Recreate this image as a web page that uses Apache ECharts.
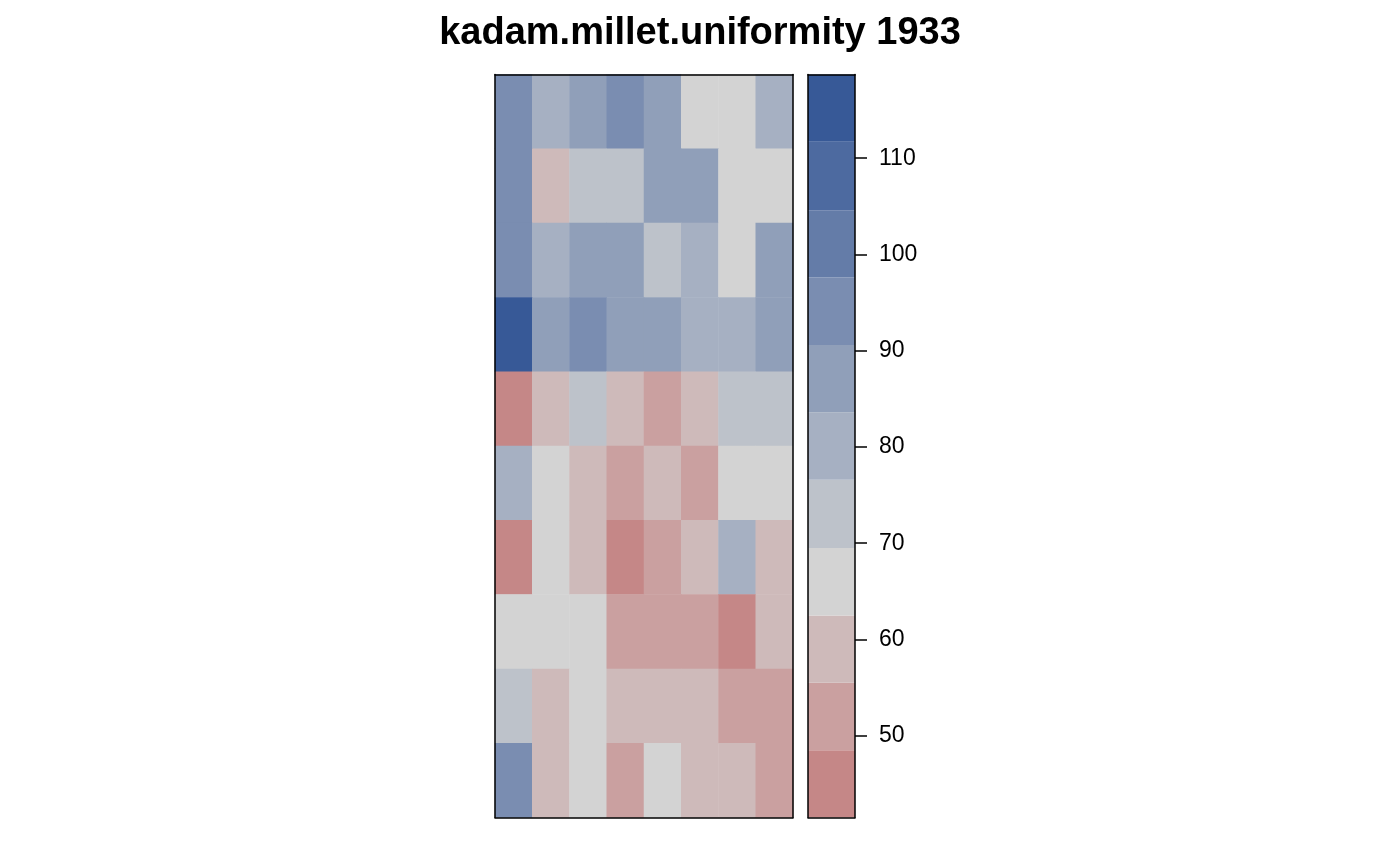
<!DOCTYPE html>
<html>
<head>
<meta charset="utf-8">
<script src="https://cdn.jsdelivr.net/npm/echarts@6/dist/echarts.min.js"></script>
<style>
html,body{margin:0;padding:0;background:#fff;}
#main{width:1400px;height:866px;}
</style>
</head>
<body>
<div id="main"></div>
<script>
// ---------- data ----------
const chartTitle = 'kadam.millet.uniformity 1933';
const cols = ['1', '2', '3', '4', '5', '6', '7', '8'];
const rows = ['1', '2', '3', '4', '5', '6', '7', '8', '9', '10'];   // top to bottom
const row1  = [93, 80, 87, 94, 86, 66, 67, 79];
const row2  = [95, 59, 73, 72, 88, 85, 65, 68];
const row3  = [92, 81, 86, 89, 73, 78, 64, 87];
const row4  = [118, 88, 93, 87, 86, 80, 82, 85];
const row5  = [45, 60, 72, 58, 53, 61, 74, 71];
const row6  = [79, 67, 59, 52, 61, 54, 66, 64];
const row7  = [46, 65, 60, 43, 51, 58, 80, 59];
const row8  = [68, 63, 66, 53, 50, 52, 47, 57];
const row9  = [74, 57, 64, 60, 62, 58, 54, 52];
const row10 = [94, 61, 66, 54, 68, 56, 59, 50];
const breaks = [41.5, 48.5, 55.5, 62.5, 69.5, 76.6, 83.6, 90.6, 97.6, 104.6, 111.7, 118.7];
const bandColors = ['#C58787', '#CAA0A0', '#CEBABA', '#D3D3D3', '#BDC2CA', '#A6B0C2',
                    '#909FB9', '#7A8DB1', '#647CA8', '#4D6AA0', '#375997'];
const tickValues = [50, 60, 70, 80, 90, 100, 110];

// ---------- build ----------
const allRows = [row1, row2, row3, row4, row5, row6, row7, row8, row9, row10];
const heatData = [];
allRows.forEach((r, ri) => r.forEach((v, ci) => heatData.push([ci, ri, v])));
const pieces = bandColors.map((c, i) => ({ gte: breaks[i], lt: breaks[i + 1], color: c }));
const bandData = bandColors.map((c, i) => [breaks[i], breaks[i + 1], i]);

const FONT = 'Liberation Sans, Arial, Helvetica, sans-serif';
const black = '#000';
const frameLine = { show: true, onZero: false, lineStyle: { color: black, width: 1.5 } };
function frameAxis(extra) {
  return Object.assign({
    axisLine: frameLine,
    axisTick: { show: false },
    axisLabel: { show: false },
    splitLine: { show: false },
    z: 10
  }, extra);
}

const chart = echarts.init(document.getElementById('main'), null, { renderer: 'canvas' });
chart.setOption({
  animation: false,
  backgroundColor: '#ffffff',
  textStyle: { fontFamily: FONT },
  title: {
    text: chartTitle,
    left: 'center',
    top: 10,
    textStyle: { fontSize: 38, fontWeight: 'bold', color: black, fontFamily: FONT }
  },
  grid: [
    { left: 495, top: 74.5, width: 298, height: 743 },
    { left: 808, top: 74.5, width: 47, height: 743 }
  ],
  xAxis: [
    frameAxis({ type: 'category', data: cols, gridIndex: 0, position: 'bottom' }),
    frameAxis({ type: 'category', data: cols, gridIndex: 0, position: 'top' }),
    frameAxis({ type: 'value', min: 0, max: 1, gridIndex: 1, position: 'bottom' }),
    frameAxis({ type: 'value', min: 0, max: 1, gridIndex: 1, position: 'top' })
  ],
  yAxis: [
    frameAxis({ type: 'category', data: rows, inverse: true, gridIndex: 0, position: 'left' }),
    frameAxis({ type: 'category', data: rows, inverse: true, gridIndex: 0, position: 'right' }),
    frameAxis({ type: 'value', min: breaks[0], max: breaks[breaks.length - 1], gridIndex: 1, position: 'left' }),
    frameAxis({
      type: 'value', min: breaks[0], max: breaks[breaks.length - 1], gridIndex: 1, position: 'right',
      axisTick: { show: true, inside: false, length: 12, customValues: tickValues,
                  lineStyle: { color: black, width: 1.5 } },
      axisLabel: { show: true, customValues: tickValues, margin: 24, fontSize: 23,
                   color: black, fontFamily: FONT }
    })
  ],
  visualMap: {
    type: 'piecewise',
    show: false,
    seriesIndex: 0,
    dimension: 2,
    pieces: pieces
  },
  series: [
    {
      type: 'heatmap',
      xAxisIndex: 0,
      yAxisIndex: 0,
      data: heatData,
      itemStyle: { borderWidth: 0 },
      emphasis: { disabled: true }
    },
    {
      type: 'custom',
      xAxisIndex: 2,
      yAxisIndex: 2,
      data: bandData,
      silent: true,
      renderItem: function (params, api) {
        const lo = api.value(0), hi = api.value(1);
        const a = api.coord([0, lo]);
        const b = api.coord([1, hi]);
        return {
          type: 'rect',
          shape: { x: a[0], y: b[1], width: b[0] - a[0], height: a[1] - b[1] },
          style: { fill: bandColors[api.value(2)] }
        };
      }
    }
  ]
});
</script>
</body>
</html>
